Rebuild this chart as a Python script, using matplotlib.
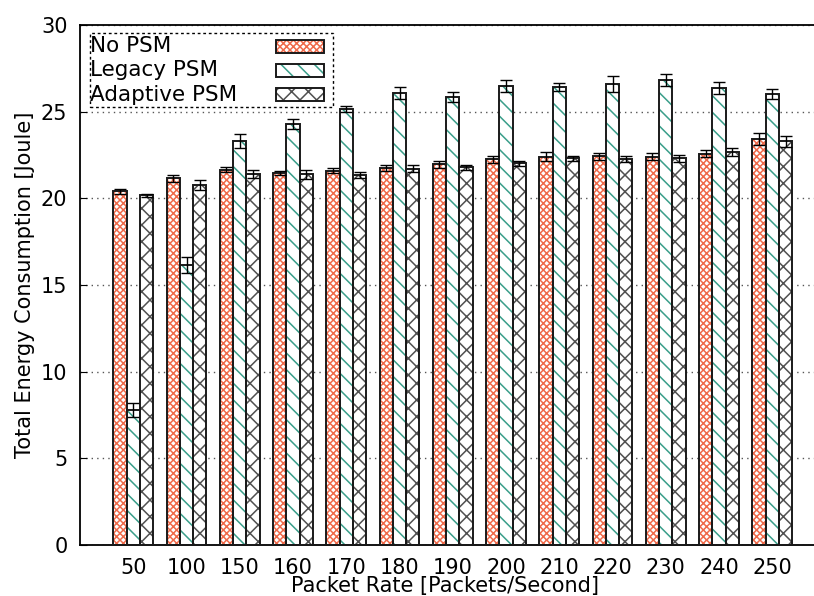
import matplotlib
matplotlib.use("Agg")
import matplotlib.pyplot as plt
import numpy as np
from matplotlib.patches import Rectangle

rates = ["50", "100", "150", "160", "170", "180", "190", "200", "210", "220", "230", "240", "250"]

no_psm = [20.4, 21.15, 21.65, 21.45, 21.6, 21.75, 21.97, 22.25, 22.41, 22.43, 22.4, 22.57, 23.42]
no_psm_err = [0.15, 0.2, 0.15, 0.12, 0.15, 0.15, 0.2, 0.2, 0.25, 0.2, 0.2, 0.2, 0.35]

legacy = [7.78, 16.15, 23.33, 24.3, 25.15, 26.08, 25.85, 26.5, 26.42, 26.6, 26.85, 26.38, 26.02]
legacy_err = [0.42, 0.44, 0.4, 0.3, 0.15, 0.35, 0.3, 0.35, 0.25, 0.45, 0.35, 0.35, 0.3]

adaptive = [20.17, 20.77, 21.4, 21.38, 21.35, 21.7, 21.8, 22.02, 22.32, 22.27, 22.32, 22.68, 23.28]
adaptive_err = [0.1, 0.3, 0.25, 0.25, 0.15, 0.2, 0.15, 0.15, 0.15, 0.15, 0.2, 0.25, 0.3]

series = [
    ("No PSM", no_psm, no_psm_err, "#ef6a4a", "xxxxx"),
    ("Legacy PSM", legacy, legacy_err, "#3a9e8a", "\\\\"),
    ("Adaptive PSM", adaptive, adaptive_err, "#505050", "xx"),
]

plt.rcParams["font.family"] = ["DejaVu Sans"]
plt.rcParams["font.size"] = 15
plt.rcParams["hatch.linewidth"] = 1.1

fig = plt.figure(figsize=(8.14, 5.96), dpi=100)
ax = fig.add_axes([80 / 814, 51 / 596, 745.5 / 814, 520 / 596])

x = np.arange(len(rates))
width = 0.25
edge = "#1a1a1a"

for i, (label, vals, errs, color, hatch) in enumerate(series):
    pos = x + (i - 1) * width
    # hatch layer, then dark outline on top
    ax.bar(pos, vals, width, color="white", edgecolor=color, hatch=hatch,
           linewidth=0, zorder=2)
    ax.bar(pos, vals, width, fill=False, edgecolor=edge, linewidth=1.4, zorder=3)
    ax.errorbar(pos, vals, yerr=errs, fmt="none", ecolor="black",
                elinewidth=1.0, capsize=4, capthick=1.0, zorder=4)

ax.set_xlim(-1, 13)
ax.set_ylim(0, 30)
ax.set_yticks([0, 5, 10, 15, 20, 25, 30])
ax.set_xticks(x)
ax.set_xticklabels(rates)
ax.tick_params(axis="x", length=0, pad=9)
ax.tick_params(axis="y", direction="in", length=5, pad=9)

ax.yaxis.grid(True, linestyle=(0, (1, 3)), color="#555555", linewidth=1.0, zorder=0)
ax.set_axisbelow(True)
for s in ax.spines.values():
    s.set_linewidth(1.3)
ax.spines["right"].set_visible(False)

ax.set_xlabel("Packet Rate [Packets/Second]", labelpad=-1, x=0.49)
ax.set_ylabel("Total Energy Consumption [Joule]", labelpad=4)

# legend drawn by hand (gnuplot style: text left, swatch right)
frame = Rectangle((0.0134, 0.8423), 0.326, 0.1423, transform=ax.transAxes,
                  fill=True, facecolor="white", edgecolor="black",
                  linestyle=(0, (2, 2)), linewidth=1.0, zorder=5)
ax.add_patch(frame)
rows = [0.9596, 0.9125, 0.8654]
for (label, vals, errs, color, hatch), yy in zip(series, rows):
    ax.text(0.0130, yy, label, transform=ax.transAxes, va="center", ha="left",
            fontsize=15.5, zorder=6)
    ax.add_patch(Rectangle((0.2629, yy - 0.0125), 0.0644, 0.025, transform=ax.transAxes,
                           facecolor="white", edgecolor=color, hatch=hatch,
                           linewidth=0, zorder=6))
    ax.add_patch(Rectangle((0.2629, yy - 0.0125), 0.0644, 0.025, transform=ax.transAxes,
                           fill=False, edgecolor=edge, linewidth=1.4, zorder=7))

fig.savefig("out.png", dpi=100)
